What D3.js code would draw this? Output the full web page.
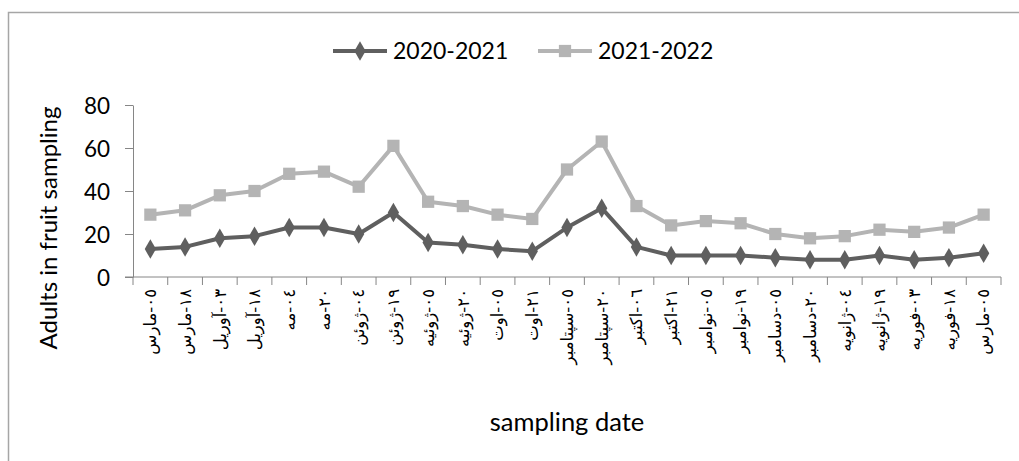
<!DOCTYPE html>
<html>
<head>
<meta charset="utf-8">
<script src="https://cdn.jsdelivr.net/npm/d3@7"></script>
<style>
  html, body { margin: 0; padding: 0; background: #fff; }
  svg { display: block; }
</style>
</head>
<body>
<svg id="chart" width="1019" height="461"></svg>
<script>
// Sampling dates (day-month, Persian month names)
const dates = [
  "٠٥-مارس", "١٨-مارس", "٠٣-آوريل", "١٨-آوريل", "٠٤-مه", "٢٠-مه",
  "٠٤-ژوئن", "١٩-ژوئن", "٠٥-ژوئيه", "٢٠-ژوئيه", "٠٥-اوت", "٢١-اوت",
  "٠٥-سپتامبر", "٢٠-سپتامبر", "٠٦-اكتبر", "٢١-اكتبر", "٠٥-نوامبر", "١٩-نوامبر",
  "٠٥-دسامبر", "٢٠-دسامبر", "٠٤-ژانويه", "١٩-ژانويه", "٠٣-فوريه", "١٨-فوريه",
  "٠٥-مارس"
];
const season2020 = [13, 14, 18, 19, 23, 23, 20, 30, 16, 15, 13, 12, 23, 32, 14, 10, 10, 10, 9, 8, 8, 10, 8, 9, 11];
const season2021 = [29, 31, 38, 40, 48, 49, 42, 61, 35, 33, 29, 27, 50, 63, 33, 24, 26, 25, 20, 18, 19, 22, 21, 23, 29];
const yTicks = [0, 20, 40, 60, 80];
const seriesNames = ["2020-2021", "2021-2022"];

const svg = d3.select("#chart");
const font = "Lato, 'Open Sans', sans-serif";
const axisColor = "#868686";

// outer frame
svg.append("rect")
  .attr("x", 8.5).attr("y", 12.5)
  .attr("width", 1030).attr("height", 470)
  .attr("fill", "none").attr("stroke", "#a6a6a6").attr("stroke-width", 1.5);

const plotLeft = 133, plotRight = 1001, plotTop = 105, plotBottom = 277;
const idx = d3.range(dates.length);
const x = d3.scaleBand().domain(idx).range([plotLeft, plotRight]);
const y = d3.scaleLinear().domain([0, 80]).range([plotBottom, plotTop]);
const cx = i => x(i) + x.bandwidth() / 2;

// y axis
const yAxis = svg.append("g")
  .attr("transform", `translate(${plotLeft},0)`)
  .call(d3.axisLeft(y).tickValues(yTicks).tickSize(8).tickPadding(15).tickSizeOuter(0));
yAxis.select(".domain").attr("stroke", axisColor);
yAxis.selectAll(".tick line").attr("stroke", axisColor);
yAxis.selectAll(".tick text")
  .attr("font-family", font).attr("font-size", 22.5).attr("fill", "#000")
  .attr("dy", "0.38em");

// x axis with ticks between categories
const xAxisG = svg.append("g").attr("transform", `translate(0,${plotBottom})`);
xAxisG.append("line")
  .attr("x1", plotLeft - 8).attr("x2", plotRight)
  .attr("stroke", axisColor);
xAxisG.selectAll("line.tk")
  .data(d3.range(dates.length + 1))
  .join("line")
  .attr("class", "tk")
  .attr("x1", i => i < dates.length ? x(i) : plotRight)
  .attr("x2", i => i < dates.length ? x(i) : plotRight)
  .attr("y1", 0).attr("y2", 8)
  .attr("stroke", axisColor);
xAxisG.selectAll("text")
  .data(idx)
  .join("text")
  .attr("transform", i => `translate(${cx(i)},12) rotate(-90)`)
  .attr("text-anchor", "end")
  .attr("dy", "0.35em")
  .attr("font-family", "'DejaVu Sans', sans-serif")
  .attr("font-size", 16.5)
  .attr("fill", "#000")
  .text(i => dates[i]);

// series lines
const line = d3.line().x((d, i) => cx(i)).y(d => y(d));
const styles = [
  { data: season2020, color: "#5f5f5f", marker: d3.symbolDiamond, size: 110 },
  { data: season2021, color: "#b4b4b4", marker: d3.symbolSquare, size: 150 }
];

styles.slice().reverse().forEach(s => {
  svg.append("path")
    .datum(s.data)
    .attr("d", line)
    .attr("fill", "none")
    .attr("stroke", s.color)
    .attr("stroke-width", 4)
    .attr("stroke-linejoin", "round");
  svg.append("g").selectAll("path")
    .data(s.data)
    .join("path")
    .attr("transform", (d, i) => `translate(${cx(i)},${y(d)})`)
    .attr("d", d3.symbol().type(s.marker).size(s.size))
    .attr("fill", s.color);
});

// legend
const legendItems = [
  { name: seriesNames[0], st: styles[0], x0: 333 },
  { name: seriesNames[1], st: styles[1], x0: 538 }
];
legendItems.forEach(it => {
  const g = svg.append("g").attr("transform", `translate(${it.x0},51)`);
  g.append("line").attr("x1", 0).attr("x2", 54)
    .attr("stroke", it.st.color).attr("stroke-width", 4);
  g.append("path").attr("transform", "translate(27,0)")
    .attr("d", d3.symbol().type(it.st.marker).size(it.st.size))
    .attr("fill", it.st.color);
  g.append("text").attr("x", 60).attr("dy", "0.36em")
    .attr("font-family", font).attr("font-size", 23).attr("fill", "#000")
    .text(it.name);
});

// axis titles
svg.append("text")
  .attr("transform", "translate(57,228) rotate(-90)")
  .attr("text-anchor", "middle")
  .attr("font-family", font).attr("font-size", 24).attr("fill", "#000")
  .text("Adults in fruit sampling");

svg.append("text")
  .attr("x", 567).attr("y", 431)
  .attr("text-anchor", "middle")
  .attr("font-family", font).attr("font-size", 25.5).attr("fill", "#000")
  .text("sampling date");
</script>
</body>
</html>
